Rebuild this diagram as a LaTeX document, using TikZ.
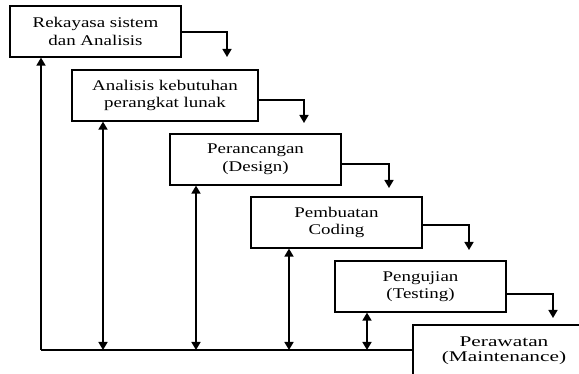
\documentclass[tikz,border=0pt]{standalone}
\usepackage{fontspec}
\setmainfont{Liberation Serif}[FakeStretch=1.28]
\newfontfamily\wideserif{Liberation Serif}[FakeStretch=1.44]
\usetikzlibrary{arrows.meta,calc}
\begin{document}
\begin{tikzpicture}[x=1pt,y=-1pt,
  stage/.style={draw=black,line width=1.2pt,minimum height=51pt,inner sep=0pt,
    align=center,font=\fontsize{14.8pt}{17.5pt}\selectfont},
  flow/.style={line width=1.6pt,-{Triangle[length=8pt,width=9pt]}},
  both/.style={line width=1.6pt,{Triangle[length=8pt,width=9pt]}-{Triangle[length=8pt,width=9pt]}},
  plain/.style={line width=1.6pt}]
\useasboundingbox (0,0) rectangle (579,374);
\clip (0,0) rectangle (579,374);
\node[stage,minimum width=171pt] (b1) at (95.5,31.5) {Rekayasa sistem\\dan Analisis};
\node[stage,minimum width=186pt] (b2) at (165,95.5) {Analisis kebutuhan\\perangkat lunak};
\node[stage,minimum width=171pt] (b3) at (255.5,159.5) {Perancangan\\(Design)};
\node[stage,minimum width=171pt] (b4) at (336.5,222.5) {Pembuatan\\Coding};
\node[stage,minimum width=171pt] (b5) at (420.5,286.5) {Pengujian\\(Testing)};
\node[stage,minimum width=182pt,font=\wideserif\fontsize{14.8pt}{15pt}\selectfont] (b6) at (504,350.5) {Perawatan\\(Maintenance)};
% forward arrows
\coordinate (c1) at (227,57);
\coordinate (c2) at (304,123);
\coordinate (c3) at (389,188);
\coordinate (c4) at (469,250);
\coordinate (c5) at (553,318);
\draw[flow] ($(b1.east)+(0,0.5)$) -| (c1);
\draw[flow] ($(b2.east)+(0,4.5)$) -| (c2);
\draw[flow] ($(b3.east)+(0,4.5)$) -| (c3);
\draw[flow] ($(b4.east)+(0,2.5)$) -| (c4);
\draw[flow] ($(b5.east)+(0,7.5)$) -| (c5);
% feedback
\coordinate (l0) at (41,350);
\coordinate (f2) at (103,350);
\coordinate (f3) at (196,350);
\coordinate (f4) at (289,350);
\coordinate (f5) at (367,350);
\draw[plain] (l0) -- (l0 -| b6.west);
\draw[flow] (l0) -- (l0 |- b1.south);
\draw[both] (f2 |- b2.south) -- (f2);
\draw[both] (f3 |- b3.south) -- (f3);
\draw[both] (f4 |- b4.south) -- (f4);
\draw[both] (f5 |- b5.south) -- (f5);
\end{tikzpicture}
\end{document}
